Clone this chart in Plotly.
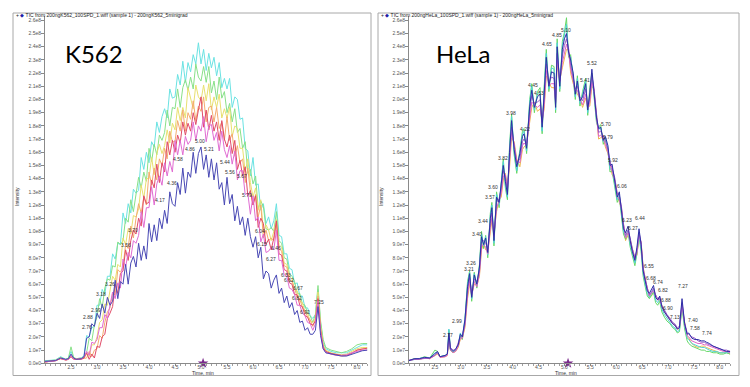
import plotly.graph_objects as go

# ---------------- K562 panel data (intensity in units of 1e7) ----------------
k_time = [2.00, 2.10, 2.20, 2.30, 2.40, 2.45, 2.50, 2.55, 2.60, 2.70, 2.75,
          2.80, 2.85, 2.90, 2.95, 3.00, 3.05, 3.10, 3.15, 3.20, 3.25,
          3.30, 3.35, 3.40, 3.45, 3.50, 3.55, 3.60, 3.65, 3.70, 3.75,
          3.80, 3.85, 3.90, 3.95, 4.00, 4.05, 4.10, 4.15, 4.20, 4.25,
          4.30, 4.35, 4.40, 4.45, 4.50, 4.55, 4.60, 4.65, 4.70, 4.75,
          4.80, 4.85, 4.90, 4.95, 5.00, 5.05, 5.10, 5.15, 5.20, 5.25,
          5.30, 5.35, 5.40, 5.45, 5.50, 5.55, 5.60, 5.65, 5.70, 5.75,
          5.80, 5.85, 5.90, 5.95, 6.00, 6.05, 6.10, 6.15, 6.20, 6.25,
          6.30, 6.35, 6.40, 6.45, 6.50, 6.55, 6.60, 6.65, 6.70, 6.75,
          6.80, 6.85, 6.90, 6.95, 7.00, 7.05, 7.10, 7.15, 7.20, 7.25,
          7.30, 7.35, 7.40,
          7.50, 7.60, 7.70, 7.80, 7.90, 8.00, 8.10, 8.20]

k_cyan = [0.2, 0.2, 0.25, 0.5, 0.3, 0.4, 0.9, 0.4, 0.35, 0.4, 0.6,
          2.1, 2.0, 2.7, 2.8, 4.4, 4.4, 5.6, 5.2, 6.6, 6.6,
          8.3, 7.9, 9.1, 9.0, 11.4, 10.6, 12.1, 11.4, 13.2, 12.9,
          13.1, 15.6, 14.7, 16.0, 15.2, 16.8, 16.4, 18.3, 17.5, 18.7,
          19.3, 18.6, 20.8, 20.1, 20.2, 21.9, 21.1, 22.9, 21.3, 22.8,
          22.1, 23.4, 22.7, 24.3, 22.7, 23.8, 22.2, 23.5, 22.4, 23.2,
          21.8, 22.8, 20.9, 21.6, 20.8, 21.6, 19.4, 20.2, 20.0, 18.5,
          18.6, 16.3, 16.1, 14.2, 15.6, 13.5, 13.6, 11.6, 12.1, 10.6,
          11.1, 10.2, 10.8, 12.1, 9.7, 9.6, 8.3, 8.3, 7.2, 7.1,
          6.0, 6.1, 5.1, 5.1, 4.2, 4.2, 3.6, 3.4, 3.7, 5.6,
          3.0, 1.6, 1.1,
          0.9, 0.8, 0.8, 0.8, 1.0, 1.2, 1.4, 1.4]

k_green = [0.15, 0.2, 0.25, 0.45, 0.3, 0.4, 1.25, 0.45, 0.35, 0.4, 0.5,
           0.8, 1.9, 1.7, 2.9, 3.5, 4.9, 4.2, 5.7, 6.4, 6.3,
           7.4, 7.3, 9.2, 9.0, 9.3, 11.0, 10.7, 12.4, 11.5, 13.0,
           14.1, 13.3, 14.5, 13.8, 16.3, 15.3, 16.6, 15.8, 17.3, 16.9,
           17.5, 19.2, 18.0, 19.4, 19.3, 20.8, 19.4, 20.9, 21.5, 20.7,
           21.7, 20.8, 22.7, 21.7, 21.4, 22.5, 21.3, 22.5, 20.5, 21.4,
           20.0, 21.7, 20.1, 20.6, 19.0, 19.7, 18.3, 19.3, 17.5, 17.8,
           16.3, 16.8, 14.4, 14.7, 13.6, 14.2, 11.7, 12.3, 11.9, 10.2,
           10.1, 10.3, 10.0, 11.5, 9.3, 9.1, 8.0, 7.9, 6.8, 6.6,
           6.2, 5.3, 5.3, 4.5, 4.4, 3.8, 3.6, 3.1, 3.7, 5.9,
           3.2, 1.8, 1.2,
           1.0, 0.9, 0.8, 0.9, 1.1, 1.4, 1.5, 1.5]

k_yellow = [0.1, 0.15, 0.2, 0.4, 0.25, 0.3, 0.6, 0.35, 0.3, 0.35, 0.4,
            0.7, 0.5, 1.4, 1.4, 2.0, 3.1, 3.3, 4.5, 4.4, 5.5,
            6.6, 6.3, 7.5, 7.3, 9.5, 9.0, 10.2, 9.8, 11.2, 11.1,
            11.7, 13.5, 12.5, 14.0, 14.0, 15.6, 14.3, 15.9, 16.6, 15.9,
            16.5, 17.7, 16.7, 18.2, 17.7, 19.4, 18.4, 19.4, 18.6, 20.9,
            20.2, 19.3, 21.1, 20.2, 19.9, 21.1, 19.9, 21.2, 19.2, 20.2,
            19.4, 20.4, 18.6, 19.3, 18.6, 19.4, 17.2, 18.0, 17.8, 16.3,
            16.3, 14.5, 15.5, 13.7, 12.6, 13.3, 11.6, 12.4, 9.9, 10.5,
            10.1, 9.3, 10.0, 10.9, 9.0, 8.8, 7.6, 7.5, 6.6, 6.4,
            5.6, 5.5, 4.7, 4.6, 3.9, 3.8, 3.2, 3.1, 3.4, 5.4,
            2.8, 1.4, 1.0,
            0.8, 0.7, 0.65, 0.7, 0.9, 1.1, 1.2, 1.2]

k_orange = [0.1, 0.15, 0.2, 0.35, 0.25, 0.3, 0.55, 0.35, 0.3, 0.35, 0.4,
            0.4, 0.9, 0.5, 1.0, 1.1, 2.1, 1.9, 3.1, 3.9, 4.2,
            5.3, 5.2, 7.1, 6.9, 7.3, 9.0, 8.7, 10.4, 9.5, 11.0,
            12.1, 11.4, 12.6, 12.0, 14.5, 13.5, 14.8, 13.9, 15.5, 15.0,
            16.3, 15.5, 17.6, 16.8, 16.8, 18.4, 17.6, 19.2, 17.6, 19.0,
            18.5, 19.9, 18.4, 19.5, 19.1, 20.2, 18.3, 19.4, 19.5, 18.3,
            19.4, 17.8, 18.3, 16.9, 18.7, 16.9, 17.4, 15.7, 16.5, 15.2,
            15.5, 13.7, 14.8, 13.0, 12.0, 12.8, 11.1, 12.0, 9.5, 10.1,
            9.3, 9.5, 9.3, 10.6, 8.7, 8.5, 7.4, 7.3, 6.3, 6.2,
            5.7, 5.0, 4.9, 4.2, 4.0, 3.5, 3.3, 2.8, 3.3, 5.1,
            2.6, 1.3, 0.9,
            0.7, 0.6, 0.55, 0.6, 0.8, 1.0, 1.1, 1.1]

k_red = [0.1, 0.15, 0.2, 0.35, 0.25, 0.3, 0.5, 0.3, 0.3, 0.3, 0.4,
         0.8, 0.3, 0.7, 0.4, 1.3, 1.2, 2.0, 2.2, 3.4, 3.8,
         4.3, 6.0, 5.3, 6.8, 7.0, 8.6, 7.8, 9.3, 10.1, 9.8,
         11.0, 10.4, 12.7, 12.1, 12.2, 13.9, 13.3, 15.1, 13.7, 15.2,
         14.5, 16.8, 15.8, 16.9, 16.0, 17.3, 16.7, 18.3, 17.3, 18.2,
         17.6, 19.0, 18.1, 19.2, 20.2, 17.9, 19.2, 17.7, 18.8, 17.6,
         18.3, 16.9, 18.4, 17.0, 16.4, 17.3, 15.9, 16.9, 14.7, 15.4,
         14.2, 14.9, 12.7, 13.1, 12.0, 12.7, 10.3, 11.0, 10.6, 9.0,
         9.4, 8.6, 9.5, 10.8, 8.3, 8.2, 7.1, 7.0, 6.1, 6.0,
         5.2, 5.2, 4.4, 4.3, 3.6, 3.5, 3.0, 2.9, 3.2, 4.9,
         2.5, 1.2, 0.9,
         0.75, 0.65, 0.6, 0.6, 0.75, 1.0, 1.1, 1.15]

k_magenta = [0.1, 0.15, 0.2, 0.4, 0.25, 0.3, 0.6, 0.35, 0.3, 0.35, 0.5,
             0.9, 0.6, 1.6, 1.5, 1.8, 2.7, 2.7, 3.7, 3.4, 4.3,
             5.4, 4.9, 6.1, 5.7, 7.9, 7.3, 8.4, 8.0, 9.3, 9.1,
             9.7, 11.5, 10.3, 11.8, 11.8, 13.4, 12.0, 13.6, 14.2, 13.5,
             15.2, 14.2, 15.3, 14.5, 16.9, 15.8, 16.9, 15.8, 17.2, 16.6,
             16.9, 18.3, 16.9, 18.0, 17.6, 18.7, 16.8, 18.0, 18.1, 16.9,
             17.5, 16.1, 17.6, 16.2, 15.6, 16.5, 15.1, 16.1, 13.9, 14.6,
             14.6, 12.8, 12.9, 11.3, 12.7, 10.8, 11.1, 9.2, 9.8, 8.4,
             8.5, 8.8, 8.6, 10.1, 7.8, 7.8, 6.7, 6.6, 5.7, 5.6,
             5.2, 4.4, 4.4, 3.8, 3.6, 3.1, 3.0, 2.5, 3.0, 4.7,
             2.3, 1.1, 0.8,
             0.7, 0.6, 0.6, 0.65, 0.8, 0.9, 1.0, 1.0]

k_blue = [0.15, 0.2, 0.2, 0.4, 0.3, 0.35, 0.7, 0.4, 0.3, 0.35, 0.5,
          1.9, 2.0, 3.0, 2.8, 3.8, 3.4, 4.5, 3.8, 5.0, 4.4,
          4.7, 6.3, 4.9, 6.2, 6.0, 7.5, 6.0, 7.6, 8.1, 7.3,
          9.1, 7.8, 8.9, 7.9, 10.6, 9.2, 10.5, 9.3, 11.0, 10.2,
          11.6, 10.6, 13.0, 12.1, 11.9, 13.7, 12.8, 14.8, 12.9, 14.5,
          14.1, 16.0, 14.4, 15.9, 16.4, 14.7, 15.8, 14.1, 15.5, 13.9,
          15.2, 13.2, 13.7, 12.0, 14.1, 12.1, 12.8, 10.8, 11.9, 10.5,
          11.1, 9.7, 11.0, 9.6, 8.8, 9.6, 8.0, 8.8, 6.4, 7.0,
          6.8, 5.7, 6.3, 6.7, 5.3, 5.7, 4.6, 5.1, 4.2, 4.6,
          3.7, 4.0, 3.1, 3.2, 2.5, 2.7, 2.2, 2.2, 2.5, 4.3,
          2.1, 1.1, 0.8,
          0.7, 0.6, 0.55, 0.55, 0.7, 0.85, 0.95, 1.0]

k_series = [("cyan", k_cyan, "#6ae2e2"), ("green", k_green, "#88e088"),
            ("yellow", k_yellow, "#e8e070"), ("orange", k_orange, "#f4ac70"),
            ("red", k_red, "#e04c68"), ("magenta", k_magenta, "#e06cd2"),
            ("blue", k_blue, "#4848b4")]

k_lab_text = ["2.76", "2.88", "2.99", "3.18", "3.26", "3.56", "3.70", "4.17", "4.36",
              "4.58", "4.86", "5.00", "5.21", "5.44", "5.56", "5.67", "5.79", "6.04",
              "6.15", "6.27", "6.46", "6.53", "6.62", "6.67", "6.82", "6.92", "7.25"]
k_lab_t = [2.80, 2.82, 2.99, 3.07, 3.25, 3.56, 3.70, 4.21, 4.44,
           4.56, 4.79, 4.98, 5.16, 5.46, 5.56, 5.78, 5.88, 6.13,
           6.17, 6.35, 6.44, 6.63, 6.70, 6.87, 6.85, 7.00, 7.26]
k_lab_v = [2.4, 3.1, 3.7, 4.85, 5.6, 8.6, 9.7, 12.0, 13.3,
           15.1, 15.9, 16.5, 15.9, 14.9, 14.1, 13.8, 12.4, 9.65,
           8.7, 7.5, 8.4, 6.3, 5.9, 5.35, 4.6, 3.5, 4.25]

# ---------------- HeLa panel data (intensity in units of 1e7) ----------------
h_time = [2.00, 2.10, 2.20, 2.30, 2.40, 2.50, 2.55, 2.60, 2.70, 2.74,
          2.77, 2.80, 2.85, 2.90, 2.95, 2.99, 3.03, 3.08, 3.13, 3.17,
          3.21, 3.26, 3.31, 3.36, 3.40, 3.44, 3.48, 3.52, 3.57, 3.60,
          3.64, 3.69, 3.74, 3.78, 3.82, 3.86, 3.90, 3.94, 3.98, 4.03,
          4.08, 4.14, 4.19, 4.22, 4.27, 4.33, 4.37, 4.42, 4.48, 4.53,
          4.57, 4.61, 4.65, 4.70, 4.75, 4.80, 4.83, 4.86, 4.91, 4.96,
          5.00, 5.04, 5.08, 5.12, 5.17, 5.21, 5.25, 5.30, 5.35, 5.41,
          5.45, 5.49, 5.53, 5.57, 5.62, 5.66, 5.70, 5.75, 5.79, 5.84,
          5.88, 5.92, 5.97, 6.02, 6.06, 6.10, 6.14, 6.18, 6.23, 6.27,
          6.31, 6.36, 6.40, 6.44, 6.48, 6.52, 6.56, 6.60, 6.64, 6.68,
          6.72, 6.76, 6.80, 6.84, 6.88, 6.93, 6.98, 7.04, 7.09, 7.13,
          7.18, 7.22, 7.27, 7.32, 7.37, 7.40, 7.46, 7.52, 7.58, 7.64,
          7.70, 7.74, 7.80, 7.87, 7.94, 8.00, 8.07, 8.13, 8.20]

h_blue = [0.2, 0.35, 0.35, 0.45, 0.4, 0.7, 0.9, 0.5, 0.6, 0.7,
          2.3, 1.1, 0.9, 1.1, 1.4, 2.2, 2.0, 3.3, 5.8, 6.8,
          5.0, 6.7, 6.0, 7.3, 9.6, 9.0, 9.5, 8.4, 11.0, 11.8,
          9.3, 12.6, 12.2, 13.6, 15.0, 13.8, 12.8, 16.0, 18.4, 16.2,
          14.9, 15.9, 17.2, 17.4, 16.3, 19.5, 20.7, 19.4, 20.2, 20.4,
          17.9, 20.5, 23.2, 21.0, 22.1, 22.0, 19.4, 24.0, 21.0, 23.8,
          24.6, 25.0, 23.6, 23.0, 22.0, 20.4, 21.4, 19.9, 20.2, 21.2,
          19.2, 20.5, 22.3, 20.6, 18.6, 17.8, 17.9, 16.9, 17.2, 16.5,
          15.0, 15.1, 13.8, 12.6, 13.0, 11.6, 10.2, 9.9, 10.4, 9.3,
          8.5, 7.8, 8.8, 10.2, 9.0, 7.0, 6.2, 5.5, 5.3, 5.6,
          5.9, 5.0, 4.8, 5.1, 4.3, 3.9, 3.6, 3.3, 3.0, 2.9,
          2.6, 2.7, 4.9, 3.0, 2.2, 2.3, 1.9, 1.8, 1.8, 1.7,
          1.7, 1.6, 1.5, 1.3, 1.2, 1.1, 1.0, 0.9, 0.9]

h_purple = [0.25, 0.3, 0.35, 0.4, 0.4, 0.6, 0.8, 0.5, 0.55, 0.7,
            2.1, 1.2, 1.0, 1.0, 1.5, 2.0, 2.1, 3.0, 5.5, 6.5,
            5.3, 6.4, 6.2, 7.0, 9.2, 9.3, 9.1, 8.7, 10.6, 11.4,
            9.7, 12.2, 12.5, 13.2, 14.6, 14.1, 13.1, 15.6, 17.9, 16.5,
            15.2, 15.5, 16.8, 17.0, 16.7, 19.1, 20.3, 19.7, 19.8, 20.0,
            18.3, 20.1, 22.7, 21.3, 21.7, 21.6, 19.8, 23.5, 21.4, 23.3,
            24.1, 24.6, 23.9, 22.6, 21.7, 20.8, 21.0, 20.2, 19.9, 20.8,
            19.5, 20.1, 21.8, 20.9, 18.9, 17.5, 17.6, 17.2, 16.9, 16.2,
            15.3, 14.8, 14.1, 12.9, 12.7, 11.9, 10.5, 9.7, 10.1, 9.5,
            8.7, 8.0, 8.6, 9.9, 9.2, 7.2, 6.4, 5.7, 5.2, 5.4,
            5.7, 5.2, 4.9, 5.0, 4.4, 4.0, 3.7, 3.4, 3.1, 3.0,
            2.7, 2.8, 4.6, 3.1, 2.3, 2.2, 2.0, 1.9, 1.7, 1.6,
            1.6, 1.5, 1.4, 1.3, 1.2, 1.1, 1.0, 1.0, 0.9]

h_magenta = [0.2, 0.3, 0.3, 0.4, 0.35, 0.6, 0.8, 0.45, 0.5, 0.6,
             2.0, 1.0, 0.8, 0.9, 1.3, 1.9, 1.9, 2.9, 5.2, 6.2,
             5.1, 6.2, 5.8, 6.8, 8.9, 9.0, 8.8, 8.3, 10.3, 11.0,
             9.6, 11.8, 12.3, 12.9, 14.2, 14.3, 13.2, 15.2, 17.5, 16.6,
             15.3, 15.2, 16.5, 16.7, 16.5, 18.6, 19.8, 19.6, 19.4, 19.6,
             18.2, 19.6, 22.2, 21.1, 21.2, 21.2, 19.7, 23.0, 21.3, 22.8,
             23.6, 24.2, 23.6, 22.3, 21.4, 20.6, 20.7, 20.0, 19.6, 20.4,
             19.3, 19.8, 21.3, 20.7, 18.6, 17.2, 17.3, 17.0, 16.6, 16.0,
             15.1, 14.5, 13.9, 12.7, 12.4, 11.7, 10.4, 9.5, 9.9, 9.3,
             8.6, 7.9, 8.4, 9.7, 9.1, 7.1, 6.3, 5.6, 5.1, 5.3,
             5.5, 5.1, 4.8, 4.9, 4.3, 3.9, 3.6, 3.3, 3.0, 2.9,
             2.6, 2.7, 4.4, 3.0, 2.1, 2.0, 1.7, 1.6, 1.5, 1.5,
             1.4, 1.4, 1.3, 1.2, 1.1, 1.0, 0.9, 0.9, 0.8]

h_green = [0.2, 0.35, 0.35, 0.5, 0.4, 1.0, 0.9, 0.5, 0.6, 0.7,
           2.5, 1.0, 0.8, 1.0, 1.3, 2.1, 1.8, 3.2, 6.2, 7.0,
           4.7, 6.9, 5.7, 7.5, 10.0, 8.7, 9.7, 8.0, 11.4, 12.2,
           8.9, 13.0, 11.8, 13.9, 15.5, 13.3, 12.4, 16.4, 18.9, 15.8,
           14.4, 16.2, 17.6, 17.8, 15.9, 20.0, 21.2, 19.0, 20.6, 20.9,
           17.4, 21.0, 23.8, 20.6, 22.6, 22.5, 19.0, 24.6, 20.6, 24.4,
           25.1, 26.2, 23.2, 23.4, 21.6, 20.0, 21.8, 19.5, 20.6, 21.6,
           18.8, 20.9, 22.0, 20.2, 18.2, 17.9, 18.1, 16.6, 17.0, 16.1,
           14.5, 14.6, 13.3, 12.2, 12.6, 11.1, 9.8, 9.4, 9.9, 8.8,
           8.1, 7.4, 8.3, 9.6, 8.5, 6.6, 5.8, 5.1, 4.9, 5.2,
           5.4, 4.6, 4.4, 4.7, 3.9, 3.5, 3.2, 3.0, 2.7, 2.6,
           2.3, 2.4, 4.2, 2.6, 1.7, 1.5, 1.3, 1.2, 1.1, 1.0,
           1.0, 0.9, 0.9, 0.8, 0.8, 0.7, 0.7, 0.8, 0.7]

h_cyan = [0.2, 0.3, 0.35, 0.45, 0.4, 0.8, 0.8, 0.5, 0.6, 0.7,
          2.6, 1.1, 0.9, 1.0, 1.4, 2.3, 2.0, 3.4, 6.0, 6.9,
          4.9, 6.8, 5.9, 7.4, 9.8, 8.9, 9.6, 8.2, 11.2, 12.0,
          9.1, 12.8, 12.0, 13.8, 15.3, 13.5, 12.6, 16.2, 18.7, 16.0,
          14.6, 16.0, 17.4, 17.6, 16.1, 19.8, 21.0, 19.2, 20.4, 20.6,
          17.6, 20.8, 23.5, 20.8, 22.4, 22.3, 19.2, 24.3, 20.8, 24.1,
          24.9, 25.7, 23.4, 23.2, 21.8, 20.2, 21.6, 19.7, 20.4, 21.4,
          19.0, 20.7, 21.8, 20.4, 18.4, 17.7, 17.9, 16.8, 17.1, 16.3,
          14.7, 14.8, 13.5, 12.4, 12.8, 11.3, 10.0, 9.6, 10.1, 9.0,
          8.3, 7.6, 8.5, 9.8, 8.7, 6.8, 6.0, 5.3, 5.0, 5.3,
          5.6, 4.8, 4.6, 4.9, 4.1, 3.7, 3.4, 3.1, 2.8, 2.7,
          2.4, 2.5, 4.5, 2.8, 1.9, 1.8, 1.5, 1.4, 1.3, 1.2,
          1.2, 1.1, 1.0, 0.9, 0.9, 0.8, 0.8, 0.8, 0.8]

h_orange = [0.2, 0.3, 0.3, 0.4, 0.35, 0.6, 0.7, 0.45, 0.5, 0.6,
            1.8, 1.0, 0.8, 0.9, 1.2, 1.8, 1.9, 2.7, 4.9, 6.0,
            5.2, 6.0, 5.9, 6.6, 8.6, 9.1, 8.6, 8.5, 10.0, 10.8,
            9.8, 11.5, 12.4, 12.6, 13.9, 14.4, 13.4, 14.8, 17.1, 16.8,
            15.5, 14.9, 16.2, 16.4, 16.6, 18.2, 19.4, 19.8, 19.1, 19.3,
            18.4, 19.3, 21.8, 21.3, 20.9, 20.9, 19.9, 22.6, 21.5, 22.4,
            23.2, 23.8, 23.8, 22.0, 21.2, 20.7, 20.4, 20.1, 19.4, 20.1,
            19.4, 19.5, 21.0, 20.8, 18.8, 17.0, 17.1, 17.1, 16.4, 15.9,
            15.2, 14.3, 14.0, 12.8, 12.2, 11.8, 10.5, 9.3, 9.7, 9.4,
            8.7, 8.0, 8.2, 9.5, 9.2, 7.3, 6.4, 5.7, 5.0, 5.1,
            5.4, 5.2, 4.8, 4.8, 4.4, 3.9, 3.6, 3.3, 3.0, 2.9,
            2.6, 2.6, 4.2, 3.1, 2.0, 1.9, 1.5, 1.3, 1.2, 1.3,
            1.3, 1.2, 1.1, 1.0, 0.9, 0.8, 0.8, 0.8, 0.7]

h_series = [("orange", h_orange, "#eeb850"), ("green", h_green, "#66d866"),
            ("cyan", h_cyan, "#50d2d6"), ("magenta", h_magenta, "#e064c6"),
            ("purple", h_purple, "#9c5ec8"), ("blue", h_blue, "#2e2ea6")]

h_lab_text = ["2.77", "2.99", "3.21", "3.26", "3.40", "3.44", "3.57", "3.60", "3.82",
              "3.98", "4.22", "4.45", "4.53", "4.65", "4.85", "5.10", "5.41", "5.52",
              "5.70", "5.79", "5.92", "6.06", "6.23", "6.27", "6.44", "6.55", "6.68",
              "6.74", "6.82", "6.88", "6.90", "7.13", "7.27", "7.40", "7.58", "7.74"]
h_lab_t = [2.76, 2.92, 3.15, 3.19, 3.31, 3.43, 3.56, 3.62, 3.82,
           3.97, 4.23, 4.39, 4.51, 4.66, 4.85, 5.04, 5.40, 5.53,
           5.80, 5.85, 5.93, 6.11, 6.20, 6.32, 6.46, 6.63, 6.68,
           6.81, 6.90, 6.96, 6.99, 7.14, 7.28, 7.49, 7.52, 7.75]
h_lab_v = [1.77, 2.83, 6.77, 7.2, 9.4, 10.4, 12.25, 13.0, 15.2,
           18.6, 17.4, 20.7, 20.1, 23.8, 24.5, 24.9, 21.1, 22.4,
           17.8, 16.8, 15.0, 13.1, 10.5, 9.9, 10.6, 7.0, 6.1,
           5.8, 5.2, 4.4, 3.8, 3.15, 5.5, 2.9, 2.3, 1.95]

# ---------------- axis ticks ----------------
x_tick_vals = [2.5, 3.0, 3.5, 4.0, 4.5, 5.0, 5.5, 6.0, 6.5, 7.0, 7.5, 8.0]
x_tick_text = ["2.5", "3.0", "3.5", "4.0", "4.5", "5.0", "5.5", "6.0", "6.5", "7.0", "7.5", "8.0"]
y_tick_vals = list(range(0, 27))
y_tick_text = ["0.0e0", "1.0e7", "2.0e7", "3.0e7", "4.0e7", "5.0e7", "6.0e7", "7.0e7", "8.0e7",
               "9.0e7", "1.0e8", "1.1e8", "1.2e8", "1.3e8", "1.4e8", "1.5e8", "1.6e8", "1.7e8",
               "1.8e8", "1.9e8", "2.0e8", "2.1e8", "2.2e8", "2.3e8", "2.4e8", "2.5e8", "2.6e8"]

for _n, ys, _c in k_series:
    assert len(ys) == len(k_time), (_n, len(ys), len(k_time))
for _n, ys, _c in h_series:
    assert len(ys) == len(h_time), (_n, len(ys), len(h_time))
assert len(k_lab_text) == len(k_lab_t) == len(k_lab_v)
assert len(h_lab_text) == len(h_lab_t) == len(h_lab_v)

# The page body has an 8px margin; the figure is sized to fit inside the window.
OFF = 8
W, H = 750 - 2 * OFF, 387 - 2 * OFF
def px(x):
    return (x - OFF) / W
def py(y):
    return 1 - (y - OFF) / H

fig = go.Figure()
for name, ys, col in k_series:
    fig.add_trace(go.Scatter(x=k_time, y=ys, mode="lines", name=name,
                             line=dict(color=col, width=1), xaxis="x", yaxis="y",
                             hoverinfo="skip"))
for name, ys, col in h_series:
    fig.add_trace(go.Scatter(x=h_time, y=ys, mode="lines", name=name,
                             line=dict(color=col, width=1), xaxis="x2", yaxis="y2",
                             hoverinfo="skip"))

# software cursor markers
fig.add_trace(go.Scatter(x=[1.92], y=[1.31], mode="markers", xaxis="x", yaxis="y",
                         marker=dict(symbol="star-diamond", size=7, color="#1c1ca8"),
                         cliponaxis=False, hoverinfo="skip"))
fig.add_trace(go.Scatter(x=[5.04], y=[0.0], mode="markers", xaxis="x", yaxis="y",
                         marker=dict(symbol="star", size=8, color="#7a2a8c"),
                         cliponaxis=False, hoverinfo="skip"))
fig.add_trace(go.Scatter(x=[1.90], y=[1.46], mode="markers", xaxis="x2", yaxis="y2",
                         marker=dict(symbol="star-diamond", size=7, color="#1c1ca8"),
                         cliponaxis=False, hoverinfo="skip"))
fig.add_trace(go.Scatter(x=[5.07], y=[0.0], mode="markers", xaxis="x2", yaxis="y2",
                         marker=dict(symbol="star", size=8, color="#7a2a8c"),
                         cliponaxis=False, hoverinfo="skip"))

tick_font = dict(family="Liberation Sans, Arial, sans-serif", size=5, color="#555555")
xcommon = dict(range=[2.0, 8.2], tickmode="array", tickvals=x_tick_vals, ticktext=x_tick_text,
               ticks="outside", ticklen=2, tickcolor="#888888", tickfont=tick_font,
               ticklabelstandoff=-3,
               showline=True, linecolor="#8a8a8a", linewidth=1, showgrid=False,
               zeroline=False, fixedrange=True,
               minor=dict(tickmode="linear", tick0=2.0, dtick=0.1, ticks="outside",
                          ticklen=1.5, tickcolor="#a0a0a0"))
ycommon = dict(range=[0, 26.3], tickmode="array", tickvals=y_tick_vals, ticktext=y_tick_text,
               ticks="outside", ticklen=3, tickcolor="#888888", tickfont=tick_font,
               ticklabelstandoff=-1,
               showline=True, linecolor="#8a8a8a", linewidth=1, showgrid=False,
               zeroline=False, fixedrange=True, domain=[py(363.3), py(16.4)])

fig.update_layout(
    width=W, height=H, margin=dict(l=0, r=0, t=0, b=0, autoexpand=False),
    paper_bgcolor="white", plot_bgcolor="white", showlegend=False,
    xaxis=dict(xcommon, domain=[px(45), px(367.4)], anchor="y"),
    yaxis=dict(ycommon, anchor="x"),
    xaxis2=dict(xcommon, domain=[px(409), px(730.2)], anchor="y2"),
    yaxis2=dict(ycommon, anchor="x2"),
)

shapes = []
for (x0, x1) in [(13, 371), (378, 739)]:
    shapes.append(dict(type="rect", xref="paper", yref="paper",
                       x0=px(x0), x1=px(x1), y0=py(375.5), y1=py(13),
                       line=dict(color="#a8a8a8", width=1), fillcolor="rgba(0,0,0,0)",
                       layer="below"))
fig.update_layout(shapes=shapes)

ann = []
small = dict(family="Liberation Sans, Arial, sans-serif", size=5, color="#333333")
for txt, t, v in zip(k_lab_text, k_lab_t, k_lab_v):
    ann.append(dict(x=t, y=v, xref="x", yref="y", text=txt, showarrow=False,
                    font=small, xanchor="center", yanchor="bottom"))
for txt, t, v in zip(h_lab_text, h_lab_t, h_lab_v):
    ann.append(dict(x=t, y=v, xref="x2", yref="y2", text=txt, showarrow=False,
                    font=small, xanchor="center", yanchor="bottom"))

titles = [(14, "+ <span style='color:#1c1ca8'>◆</span> TIC from 200ngK562_100SPD_1.wiff (sample 1) - 200ngK562_5minigrad"),
          (379, "+ <span style='color:#1c1ca8'>◆</span> TIC from 200ngHeLa_100SPD_1.wiff (sample 1) - 200ngHeLa_5minigrad")]
for x0, txt in titles:
    ann.append(dict(x=px(x0), y=py(15), xref="paper", yref="paper", text=txt,
                    showarrow=False, xanchor="left", yanchor="middle",
                    font=dict(family="Liberation Sans, Arial, sans-serif", size=5, color="#222222")))

for xc in (17, 381):
    ann.append(dict(x=px(xc), y=py(197), xref="paper", yref="paper", text="Intensity",
                    showarrow=False, textangle=-90, xanchor="center", yanchor="middle",
                    font=dict(family="Liberation Sans, Arial, sans-serif", size=5, color="#333333")))
for xc in (203, 566):
    ann.append(dict(x=px(xc), y=py(372.6), xref="paper", yref="paper", text="Time, min",
                    showarrow=False, borderpad=0, xanchor="center", yanchor="middle",
                    font=dict(family="Liberation Sans, Arial, sans-serif", size=5, color="#333333")))

for xc, txt in ((94, "K562"), (464, "HeLa")):
    ann.append(dict(x=px(xc), y=py(54), xref="paper", yref="paper", text=txt,
                    showarrow=False, xanchor="center", yanchor="middle",
                    font=dict(family="Lato, sans-serif", size=24, color="#000000")))

fig.update_layout(annotations=ann)
fig.write_html("out.html")
